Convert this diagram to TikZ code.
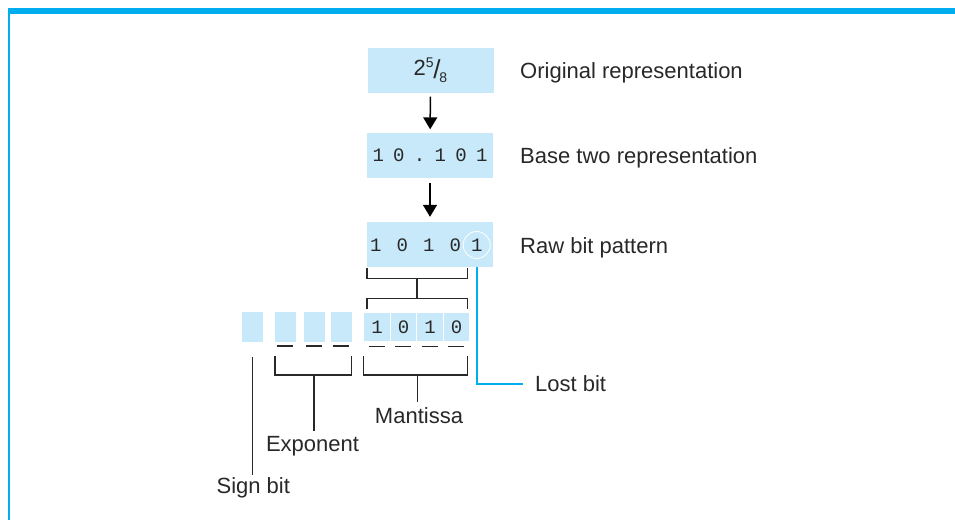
\documentclass[tikz,border=0pt]{standalone}
\usepackage{fontspec}
\setmainfont{Liberation Sans}
\newfontfamily\digitfont{Liberation Mono}
\usetikzlibrary{positioning,arrows.meta}

\definecolor{boxblue}{RGB}{199,233,249}
\definecolor{edgeblue}{RGB}{0,174,239}
\definecolor{inkgray}{RGB}{40,40,40}

\newcommand{\bitcell}[1]{\makebox[20.7pt]{#1}}
\newcommand{\smallfig}[1]{{\fontsize{14}{14}\selectfont #1}}

\begin{document}
\begin{tikzpicture}[x=1pt,y=-1pt,
    box/.style={fill=boxblue, minimum width=126pt, minimum height=45pt, inner sep=0pt, text=inkgray},
    bitbox/.style={fill=boxblue, minimum width=21pt, minimum height=30pt, inner sep=0pt},
    mbox/.style={fill=boxblue, draw=white, line width=1.2pt, minimum width=26.5pt, minimum height=30pt, inner sep=0pt, digit},
    digit/.style={font=\digitfont\fontsize{19}{19}\selectfont, text=inkgray, inner sep=0pt},
    lbl/.style={font=\fontsize{22}{24}\selectfont, text=inkgray, inner sep=0pt},
    tag/.style={lbl, outer sep=5.5pt},
    bracket/.style={draw=inkgray, line width=1.4pt},
    flow/.style={draw=black, line width=1.5pt, -{Triangle[width=14pt,length=12pt]}},
    lostline/.style={draw=edgeblue, line width=2pt}]

    \useasboundingbox (0,0) rectangle (955,520);

    % Frame
    \fill[edgeblue] (8,8) rectangle (955,14);
    \draw[edgeblue, line width=1.5pt] (9,14) -- (9,520);

    % Stages
    \node[box, font=\fontsize{22}{24}\selectfont] (orig) at (430.5,70) {2\raisebox{8.3pt}{\smallfig{5}}\kern-0.5pt\raisebox{-3pt}{\fontsize{26}{26}\selectfont/}\kern-1pt\raisebox{-7pt}{\smallfig{8}}};
    \node[box] (base) at (430,155.5) {\digitfont\fontsize{19}{19}\selectfont\bitcell{1}\bitcell{0}\bitcell{.}\bitcell{1}\bitcell{0}\bitcell{1}};
    \node[box] (raw) at (430,244.5) {};

    \draw[flow, shorten <=4pt, shorten >=3.5pt] (orig) -- (base);
    \draw[flow, shorten <=5pt, shorten >=5pt] (base) -- (raw);

    % Stage labels
    \node[lbl, anchor=base west] (origtxt) at (520,78.3) {Original representation};
    \node[lbl, anchor=base west] (basetxt) at (520,163.3) {Base two representation};
    \node[lbl, anchor=base west] (rawtxt) at (520,253) {Raw bit pattern};

    % Raw bits
    \foreach \d [count=\i from 0] in {1,0,1,0}
        \node[digit] (r\i) at (375.7+26.5*\i,245) {\d};
    \node[digit, circle, draw=white, line width=0.8pt, minimum size=27pt] (lostbit) at (476.7,245) {1};

    % Brackets from raw pattern to mantissa
    \draw[bracket] (367,268) -- (367,278.5) -- (467.5,278.5) -- (467.5,268);
    \coordinate (rawbr) at (417,278.5);
    \coordinate (mantin) at (417,298.3);
    \draw[bracket] (rawbr) -- (mantin);
    \draw[bracket] (367,309) -- (367,298.3) -- (467.5,298.3) -- (467.5,309);

    % Bit fields
    \node[bitbox] (sign) at (252.7,327) {};
    \foreach \x [count=\i] in {285.4,314.4,341.5}
        \node[bitbox] (e\i) at (\x,327) {};
    \foreach \d [count=\i] in {1,0,1,0}
        \node[mbox] (m\i) at (377+26.5*\i-26.5,327) {\d};
    \foreach \n in {e1,e2,e3,m1,m2,m3,m4}
        \draw[bracket] ([shift={(-8.5,3.6)}]\n.south) -- ++(16,0);

    % Field brackets
    \draw[bracket] (275,355.7) -- (275,375) -- (351.7,375) -- (351.7,355.7);
    \draw[bracket] (363.3,355.7) -- (363.3,375) -- (467.7,375) -- (467.7,355.7);
    \coordinate (expbr) at (314,375);
    \coordinate (mantbr) at (417.7,375);
    \coordinate (signbr) at (252.3,356.7);

    % Field labels
    \node[tag, anchor=base] (mant) at (419,423.3) {Mantissa};
    \node[tag, anchor=base] (expo) at (312.5,451.7) {Exponent};
    \node[tag, anchor=base, outer sep=2.5pt] (signtxt) at (253.3,493.3) {Sign bit};
    \draw[bracket] (mantbr) -- (mantbr |- mant.north);
    \draw[bracket] (expbr) -- (expbr |- expo.north);
    \draw[bracket] (signbr) -- (signbr |- signtxt.north);

    % Lost bit
    \node[lbl, anchor=base west] (lost) at (535,391.7) {Lost bit};
    \draw[lostline] (lostbit |- raw.south) |- ([xshift=-12.3pt]lost.west);

\end{tikzpicture}
\end{document}
